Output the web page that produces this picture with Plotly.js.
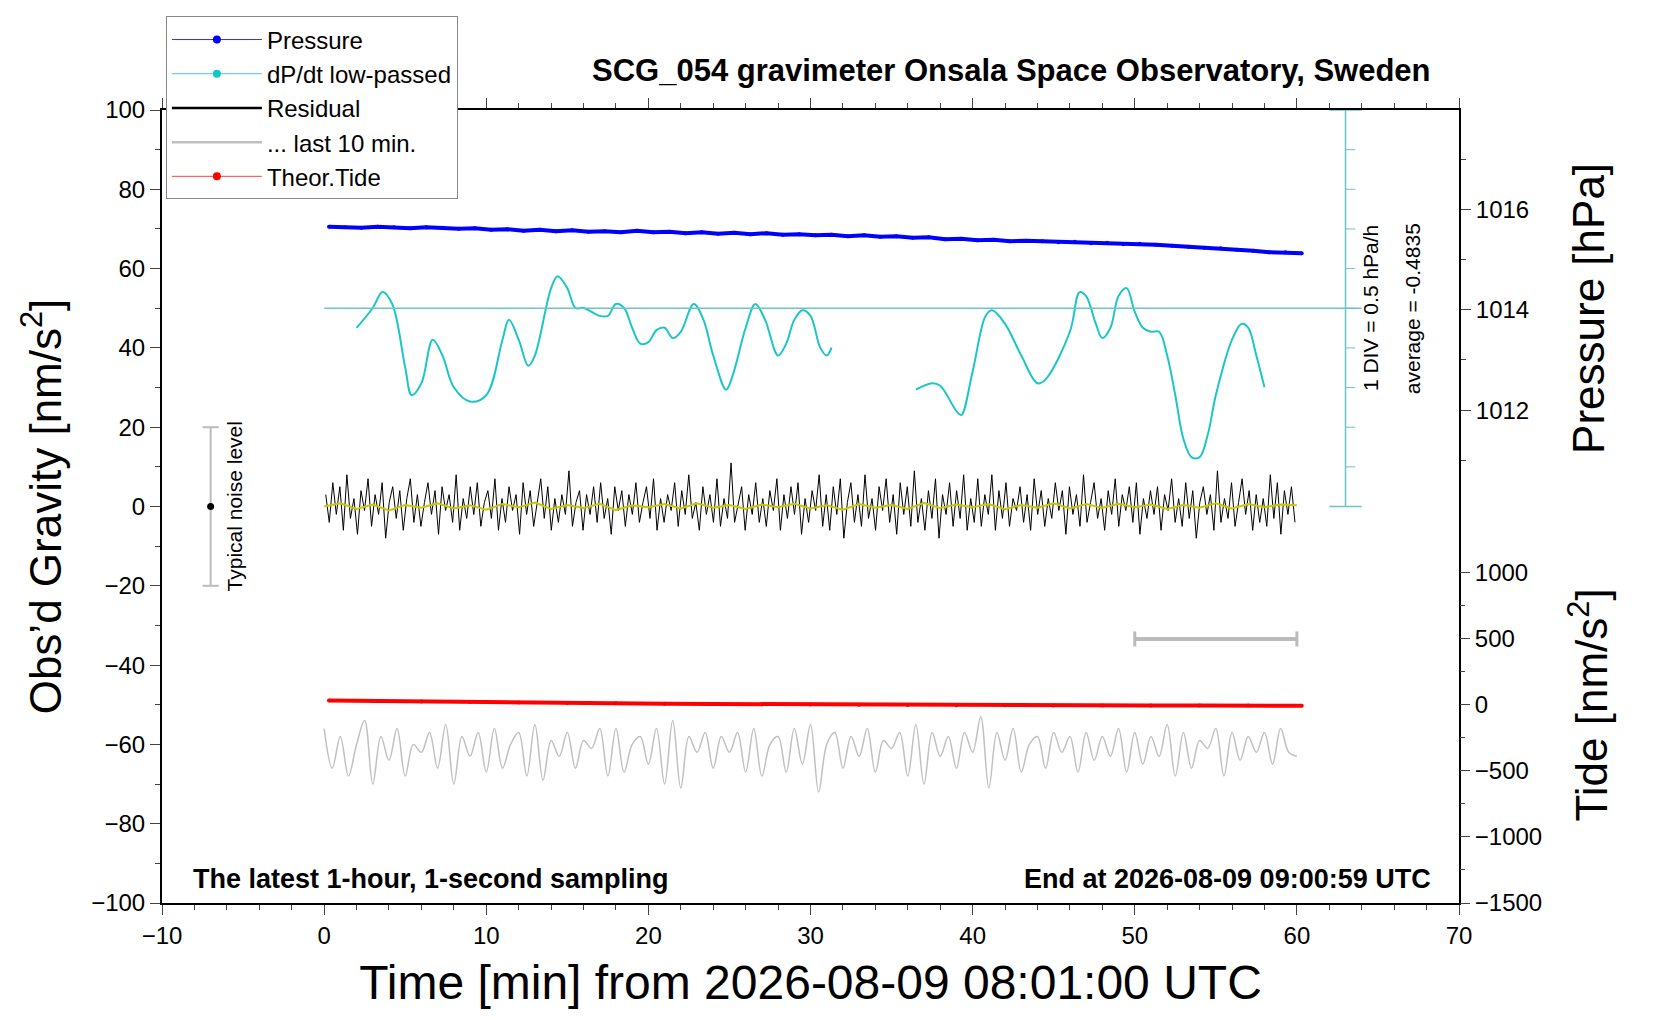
<!DOCTYPE html>
<html><head><meta charset="utf-8">
<script src="https://cdn.plot.ly/plotly-3.0.1.min.js"></script>
<style>body{margin:0;background:#fff}#myDiv{width:1660px;height:1020px}</style>
</head><body><div id="myDiv"></div>
<script>
// pressure [hPa], one point per minute from t=0.3
var pressure = [1015.66,1015.65,1015.64,1015.66,1015.65,1015.63,1015.65,1015.64,1015.62,1015.63,
  1015.60,1015.61,1015.58,1015.60,1015.57,1015.59,1015.56,1015.57,1015.55,1015.58,
  1015.55,1015.56,1015.53,1015.55,1015.52,1015.54,1015.51,1015.53,1015.50,1015.51,
  1015.49,1015.50,1015.47,1015.49,1015.46,1015.47,1015.44,1015.45,1015.41,1015.42,
  1015.39,1015.40,1015.37,1015.38,1015.37,1015.35,1015.36,1015.33,1015.34,1015.31,
  1015.32,1015.30,1015.28,1015.26,1015.24,1015.23,1015.20,1015.18,1015.15,1015.15,1015.13];
var pressureT = pressure.map(function (v, i) { return 0.3 + i; });

// dP/dt low-passed [hPa/h], two segments
var dpdtT1 = [2,3,3.6,4.2,5,5.4,6,6.7,7.3,8,9,10,11,11.4,12,12.6,13,14,14.4,15,15.5,16,17,17.5,18,18.5,19,19.5,20,20.5,21,21.5,22,22.8,23.4,24,24.8,25.2,26,26.6,27.2,28,28.5,29,29.5,30,30.6,31,31.3];
var dpdt1 = [-0.73,-0.48,-0.28,-0.43,-1.23,-1.58,-1.43,-0.88,-1.08,-1.48,-1.66,-1.58,-0.88,-0.63,-0.88,-1.21,-1.08,-0.23,-0.08,-0.23,-0.48,-0.48,-0.58,-0.58,-0.43,-0.48,-0.73,-0.93,-0.91,-0.76,-0.73,-0.86,-0.78,-0.43,-0.63,-1.08,-1.51,-1.33,-0.73,-0.43,-0.63,-1.08,-0.93,-0.63,-0.51,-0.58,-0.98,-1.08,-0.98];
var dpdtT2 = [36.5,37.5,38,39,39.3,40,40.8,41.2,42,43,44,44.5,46,46.6,47,47.6,48,48.5,49,49.5,50,50.5,51,51.5,52,52.5,53,53.5,54,54.5,55,56,56.6,57,57.5,58];
var dpdt2 = [-1.51,-1.43,-1.46,-1.78,-1.83,-1.28,-0.58,-0.51,-0.68,-1.08,-1.43,-1.38,-0.78,-0.28,-0.33,-0.68,-0.86,-0.73,-0.33,-0.23,-0.53,-0.73,-0.78,-0.78,-1.08,-1.58,-2.13,-2.36,-2.36,-2.08,-1.58,-0.88,-0.68,-0.73,-1.08,-1.48];
var dpdtAverage = -0.4835;
var dpdtDiv = 0.5;

// residual [nm/s^2]
var residual = [3,-4,6,-2,5,-6,8,-3,2,-7,4,-1,7,-5,3,-2,6,-8,1,5,-3,4,-6,2,7,-4,3,-5,1,6,
  -2,4,-7,5,-1,3,-4,8,-6,2,-3,5,-2,6,-5,1,4,-3,7,-6,2,-4,5,-1,3,-7,6,-2,4,-5,
  1,7,-3,5,-6,2,-4,3,-2,9,-5,1,4,-6,3,-2,5,-4,6,-3,2,-7,5,-1,4,-5,3,-2,6,-4,
  1,5,-3,7,-6,2,-4,3,-1,6,-5,4,-2,8,-3,1,-6,5,-2,3,-4,7,-5,2,-3,11,-4,1,5,-6,
  3,-2,6,-4,2,-5,4,-1,7,-6,3,-3,5,-2,6,-7,2,-4,4,-1,8,-5,3,-6,5,-2,7,-8,1,6,
  -4,3,-5,8,-3,2,-6,5,-1,7,-4,3,-7,6,-2,5,-5,9,-4,2,-6,4,-3,7,-8,3,-2,6,-5,4,
  -3,8,-6,2,-4,7,-5,3,-2,8,-6,4,-3,6,-5,2,-1,5,-4,3,-6,7,-2,4,-5,2,
  -3,6,-1,4,-7,5,-2,3,-5,8,-4,1,6,-3,2,-6,4,-2,7,-5,3,-1,5,-4,6,-7,2,-3,4,-2,
  5,-6,3,-1,7,-4,2,-5,6,-3,4,-8,1,5,-2,3,-6,9,-4,2,-3,6,-5,1,7,-2,4,-6,3,-4,
  2,-5,8,-3,6,-7,4,-2,5,-4];
var residualSmooth = [0,0.8,-0.6,0.5,-1,0.4,-0.3,0.8,-0.5,0.3,-0.8,0.6,-0.2,1,-0.6,0.4,-0.4,0.7,-0.9,0.3,-0.2,0.6,-0.5,0.8,-0.3,0.4,-0.6,0.5,-0.2,0.7,-0.5,0.3,-0.8,0.6,-0.3,0.4,-0.6,0.9,-0.4,0.5,-0.2,0.6,-0.7,0.4,-0.3,0.8,-0.5,0.6,-0.4,0.7,-0.2,0.5,-0.6,0.4,-0.3,0.8,-0.5,0.6,-0.2,0.5,0.3];

// last 10 min residual, stretched over 60 min, plotted at offset
var last10 = [-56,-66,-58,-68,-60,-54,-70,-58,-64,-56,-68,-60,-62,-57,-66,-55,-70,-58,-63,-57,
  -67,-56,-66,-60,-57,-68,-55,-69,-59,-63,-57,-66,-59,-61,-56,-68,-56,-67,-60,-58,
  -65,-56,-70,-54,-71,-58,-62,-57,-66,-58,-62,-57,-67,-56,-68,-60,-58,-67,-56,-65,
  -55,-72,-60,-57,-66,-58,-63,-56,-67,-59,-61,-57,-68,-55,-70,-57,-63,-58,-66,-57,
  -62,-53,-71,-57,-64,-56,-67,-60,-58,-66,-57,-62,-58,-67,-57,-64,-58,-63,-56,-67,
  -57,-65,-58,-63,-55,-68,-57,-66,-59,-61,-56,-68,-57,-64,-58,-62,-57,-65,-56,-62,-63];

// theoretical tide [nm/s^2]
var tideT = [0.3,3,6,9,12,15,18,21,24,27,30,33,36,39,42,45,48,51,54,57,60.3];
var tide = [32,28,24,20,17,14,11,8,6,4,2,0,-1,-3,-4,-5,-5,-5,-6,-6,-7];

var gToP = function (g) { return 1016 + (g - 74.87) / 12.64; };
var gToTide = function (g) { return (g + 50) * 30; };

var residualT = residual.map(function (v, i) { return 0.1 + i * 60 / residual.length; });
var smoothT = residualSmooth.map(function (v, i) { return i; });
var last10T = last10.map(function (v, i) { return i * 60 / (last10.length - 1); });

var data = [
  {x: pressureT, y: pressure, yaxis: 'y2', mode: 'lines+markers', line: {color: 'blue', width: 4}, marker: {color: 'blue', size: 4}, showlegend: false},
  {x: dpdtT1, y: dpdt1, yaxis: 'y4', mode: 'lines', line: {color: '#1cc6c6', width: 2, shape: 'spline'}, showlegend: false},
  {x: dpdtT2, y: dpdt2, yaxis: 'y4', mode: 'lines', line: {color: '#1cc6c6', width: 2, shape: 'spline'}, showlegend: false},
  {x: residualT, y: residual, mode: 'lines', line: {color: 'black', width: 1}, showlegend: false},
  {x: smoothT, y: residualSmooth, mode: 'lines', line: {color: '#c8c800', width: 2}, showlegend: false},
  {x: last10T, y: last10, mode: 'lines', line: {color: '#c0c0c0', width: 1.5, shape: 'spline'}, showlegend: false},
  {x: tideT, y: tide, yaxis: 'y3', mode: 'lines+markers', line: {color: 'red', width: 4}, marker: {color: 'red', size: 4}, showlegend: false},
  {x: [-7, -7, -7], y: [-20, 0, 20], mode: 'lines', line: {color: '#bbbbbb', width: 2}, showlegend: false},
  {x: [-7], y: [0], mode: 'markers', marker: {color: 'black', size: 7}, showlegend: false},
  {x: [50, 60], y: [-33.4, -33.4], mode: 'lines', line: {color: '#bbbbbb', width: 4}, showlegend: false},
  // legend entries
  {x: [null], y: [null], name: 'Pressure', mode: 'lines+markers', line: {color: '#3030ff', width: 1}, marker: {color: 'blue', size: 8}},
  {x: [null], y: [null], name: 'dP/dt low-passed', mode: 'lines+markers', line: {color: '#40d0d0', width: 1}, marker: {color: '#10c8c8', size: 8}},
  {x: [null], y: [null], name: 'Residual', mode: 'lines', line: {color: 'black', width: 2.5}},
  {x: [null], y: [null], name: '... last 10 min.', mode: 'lines', line: {color: '#c0c0c0', width: 2.5}},
  {x: [null], y: [null], name: 'Theor.Tide', mode: 'lines+markers', line: {color: '#ff4040', width: 1}, marker: {color: 'red', size: 8}}
];

var cyan = '#6cc4c4';
var shapes = [
  {type: 'line', xref: 'x', yref: 'y', x0: 0, x1: 64, y0: 50, y1: 50, line: {color: cyan, width: 1.5}},
  {type: 'line', xref: 'x', yref: 'y', x0: 63, x1: 63, y0: 0, y1: 100, line: {color: cyan, width: 1.5}},
  {type: 'line', xref: 'x', yref: 'y', x0: 62, x1: 64, y0: 0, y1: 0, line: {color: cyan, width: 1.5}},
  {type: 'line', xref: 'x', yref: 'y', x0: 62, x1: 64, y0: 100, y1: 100, line: {color: cyan, width: 1.5}},
  {type: 'line', xref: 'x', yref: 'y', x0: -7.5, x1: -6.5, y0: 20, y1: 20, line: {color: '#bbbbbb', width: 2}},
  {type: 'line', xref: 'x', yref: 'y', x0: -7.5, x1: -6.5, y0: -20, y1: -20, line: {color: '#bbbbbb', width: 2}},
  {type: 'line', xref: 'x', yref: 'y', x0: 50, x1: 50, y0: -31.5, y1: -35.3, line: {color: '#bbbbbb', width: 3}},
  {type: 'line', xref: 'x', yref: 'y', x0: 60, x1: 60, y0: -31.5, y1: -35.3, line: {color: '#bbbbbb', width: 3}}
];
for (var d = 10; d < 100; d += 10) {
  shapes.push({type: 'line', xref: 'x', yref: 'y', x0: 63, x1: 63.6, y0: d, y1: d, line: {color: cyan, width: 1}});
}

var f = 'Liberation Sans, Arial, sans-serif';
var layout = {
  width: 1660, height: 1020,
  margin: {l: 162, r: 201, t: 110, b: 117},
  font: {family: f, size: 24, color: 'black'},
  showlegend: true,
  legend: {x: 0.003, xref: 'paper', y: 1.118, yanchor: 'top', xanchor: 'left', bordercolor: '#888', borderwidth: 1, bgcolor: 'white', font: {size: 24}, tracegroupgap: 0, itemwidth: 90},
  xaxis: {range: [-10, 70], tickvals: [-10, 0, 10, 20, 30, 40, 50, 60, 70], ticks: 'outside', ticklen: 10, showgrid: false, zeroline: false, showline: true, mirror: 'ticks', linewidth: 2, linecolor: 'black',
    minor: {dtick: 2, ticks: 'outside', ticklen: 5}, tickfont: {size: 24},
    title: {text: 'Time [min] from 2026-08-09 08:01:00 UTC', font: {size: 48}, standoff: 18}},
  yaxis: {range: [-100, 100], dtick: 20, ticks: 'outside', ticklen: 10, showgrid: false, zeroline: false, showline: true, linewidth: 2, linecolor: 'black',
    minor: {dtick: 10, ticks: 'outside', ticklen: 5}, tickfont: {size: 24},
    title: {text: 'Obs\u2019d Gravity [nm/s<sup>2</sup>]', font: {size: 44}, standoff: 16}},
  yaxis2: {overlaying: 'y', side: 'right', range: [gToP(-100), gToP(100)], tickvals: [1012, 1014, 1016], ticks: 'outside', ticklen: 10, showgrid: false, zeroline: false, showline: true, linewidth: 2, linecolor: 'black',
    minor: {tickvals: [1011, 1013, 1015, 1017], ticks: 'outside', ticklen: 5}, tickfont: {size: 24}},
  yaxis3: {overlaying: 'y', side: 'right', range: [gToTide(-100), gToTide(100)], tickvals: [-1500, -1000, -500, 0, 500, 1000], ticks: 'outside', ticklen: 10, showgrid: false, zeroline: false, showline: false,
    minor: {tickvals: [-1250, -750, -250, 250, 750], ticks: 'outside', ticklen: 5}, tickfont: {size: 24}},
  yaxis4: {overlaying: 'y', range: [dpdtAverage - 150 / 10 * dpdtDiv, dpdtAverage + 50 / 10 * dpdtDiv], visible: false},
  shapes: shapes,
  annotations: [
    {xref: 'paper', yref: 'paper', x: 1, xanchor: 'right', y: 1.05, yanchor: 'middle', text: '<b>SCG_054 gravimeter Onsala Space Observatory, Sweden</b>', showarrow: false, font: {size: 31}, xshift: -26},
    {xref: 'paper', yref: 'paper', x: 0.022, xanchor: 'left', y: 0.03, yanchor: 'middle', text: '<b>The latest 1-hour, 1-second sampling</b>', showarrow: false, font: {size: 27}},
    {xref: 'paper', yref: 'paper', x: 0.98, xanchor: 'right', y: 0.03, yanchor: 'middle', text: '<b>End at 2026-08-09 09:00:59 UTC</b>', showarrow: false, font: {size: 27}},
    {xref: 'x', yref: 'y', x: -5.5, y: 0, xanchor: 'center', yanchor: 'middle', text: 'Typical noise level', textangle: -90, showarrow: false, font: {size: 21}},
    {xref: 'x', yref: 'y', x: 64.5, y: 50, xanchor: 'center', yanchor: 'middle', text: '1 DIV = 0.5 hPa/h', textangle: -90, showarrow: false, font: {size: 21}},
    {xref: 'x', yref: 'y', x: 67.1, y: 50, xanchor: 'center', yanchor: 'middle', text: 'average = -0.4835', textangle: -90, showarrow: false, font: {size: 21}},
    {xref: 'paper', yref: 'paper', x: 1.1, y: 0.75, xanchor: 'center', yanchor: 'middle', text: 'Pressure [hPa]', textangle: -90, showarrow: false, font: {size: 44}},
    {xref: 'paper', yref: 'paper', x: 1.1, y: 0.25, xanchor: 'center', yanchor: 'middle', text: 'Tide [nm/s<sup>2</sup>]', textangle: -90, showarrow: false, font: {size: 44}}
  ],
  plot_bgcolor: 'white', paper_bgcolor: 'white'
};
Plotly.newPlot('myDiv', data, layout, {displayModeBar: false});
</script></body></html>
